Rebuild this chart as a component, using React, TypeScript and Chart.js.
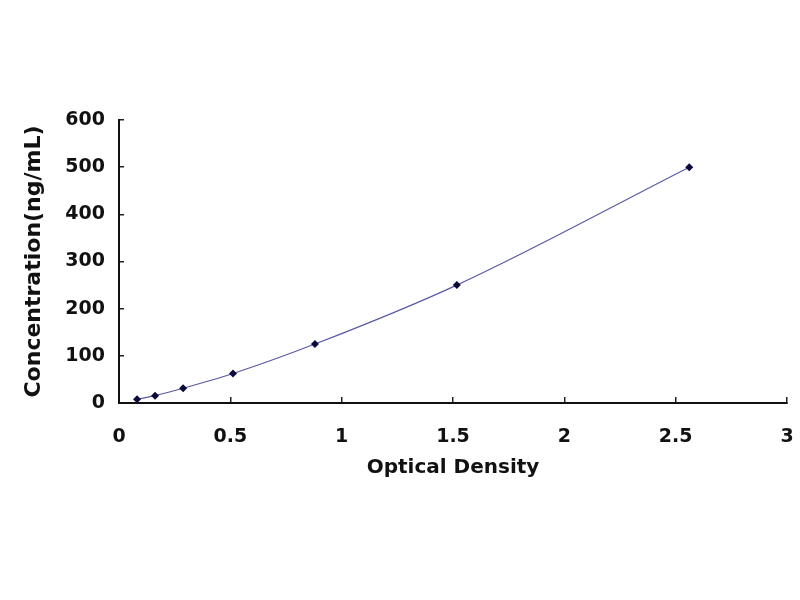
import React, { useEffect, useRef } from "react";
import { Chart, registerables } from "chart.js";

Chart.register(...registerables);

const opticalDensity = [0.081, 0.162, 0.288, 0.512, 0.88, 1.517, 2.561];
const concentration = [7.8, 15.6, 31.25, 62.5, 125, 250, 500];
const xTitle = "Optical Density";
const yTitle = "Concentration(ng/mL)";

export default function App() {
  const ref = useRef<HTMLCanvasElement | null>(null);

  useEffect(() => {
    if (!ref.current) return;
    const points = opticalDensity.map((x, i) => ({ x, y: concentration[i] }));
    const tickFont = { family: "DejaVu Sans", size: 19, weight: "bold" as const };
    const chart = new Chart(ref.current, {
      type: "scatter",
      data: {
        datasets: [
          {
            data: points,
            showLine: true,
            borderColor: "#5a5aa5",
            borderWidth: 1.2,
            cubicInterpolationMode: "monotone",
            pointStyle: "rectRot",
            pointRadius: 4,
            pointBackgroundColor: "#0a0a3a",
            pointBorderColor: "#0a0a3a",
            pointBorderWidth: 0,
          },
        ],
      },
      options: {
        animation: false,
        responsive: true,
        maintainAspectRatio: false,
        layout: { padding: { top: 120, right: 13, bottom: 117, left: 8 } },
        plugins: { legend: { display: false }, tooltip: { enabled: false } },
        scales: {
          x: {
            type: "linear",
            min: 0,
            max: 3,
            afterFit: (s: any) => {
              s.height = 80;
              s.paddingLeft = 0;
              s.paddingRight = 0;
            },
            ticks: {
              stepSize: 0.5,
              color: "#111",
              font: tickFont,
              padding: 29,
              maxRotation: 0,
              callback: (v: any) => String(Number(v)),
            },
            grid: { drawOnChartArea: false, drawTicks: true, tickLength: -6, color: "#222", lineWidth: 1.5 },
            border: { display: true, color: "#111", width: 2 },
            title: {
              display: true,
              text: xTitle,
              color: "#111",
              font: { family: "DejaVu Sans", size: 20, weight: "bold" },
              padding: { top: 0, bottom: 3 },
            },
          },
          y: {
            type: "linear",
            min: 0,
            max: 600,
            afterFit: (s: any) => {
              s.width = 111;
              s.paddingTop = 0;
              s.paddingBottom = 0;
            },
            ticks: {
              stepSize: 100,
              color: "#111",
              font: tickFont,
              padding: 19,
            },
            grid: { drawOnChartArea: false, drawTicks: true, tickLength: -5, color: "#222", lineWidth: 1.5 },
            border: { display: true, color: "#111", width: 2 },
            title: {
              display: true,
              text: yTitle,
              color: "#111",
              font: { family: "DejaVu Sans", size: 22, weight: "bold" },
              padding: { top: 13, bottom: 0 },
            },
          },
        },
      },
    });
    return () => chart.destroy();
  }, []);

  return (
    <div style={{ position: "fixed", left: 0, top: 0, width: 800, height: 600, background: "#fff" }}>
      <canvas ref={ref} />
    </div>
  );
}
